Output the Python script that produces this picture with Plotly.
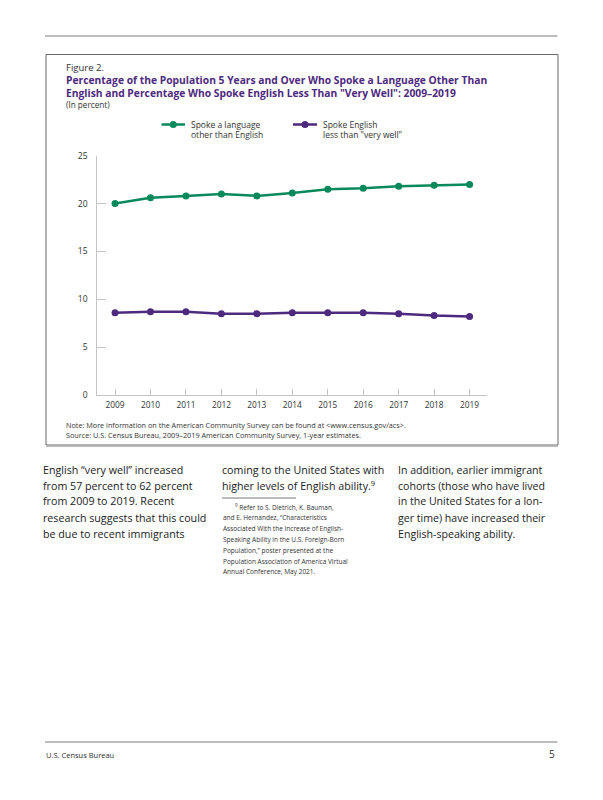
import plotly.graph_objects as go

W, H = 603, 800

years = [2009, 2010, 2011, 2012, 2013, 2014, 2015, 2016, 2017, 2018, 2019]
spoke_other = [20.0, 20.6, 20.8, 21.0, 20.8, 21.1, 21.5, 21.6, 21.8, 21.9, 22.0]
less_very_well = [8.6, 8.7, 8.7, 8.5, 8.5, 8.6, 8.6, 8.6, 8.5, 8.3, 8.2]
series_names = ["Spoke a language<br>other than English", "Spoke English<br>less than \"very well\""]
y_ticks = [0, 5, 10, 15, 20, 25]

GREEN = "#0a8a5c"
PURPLE = "#4e2a7e"
FONT = "Open Sans"

def px(x):
    return x / W

def py(y):
    return 1 - y / H

fig = go.Figure()
fig.add_trace(go.Scatter(x=years, y=spoke_other, mode="lines+markers",
                         line=dict(color=GREEN, width=2.5), marker=dict(size=7, color=GREEN),
                         name=series_names[0], showlegend=False))
fig.add_trace(go.Scatter(x=years, y=less_very_well, mode="lines+markers",
                         line=dict(color=PURPLE, width=2.5), marker=dict(size=7, color=PURPLE),
                         name=series_names[1], showlegend=False))

fig.update_layout(
    width=W, height=H, margin=dict(l=0, r=0, t=0, b=0, pad=0, autoexpand=False),
    autosize=False, showlegend=False,
    paper_bgcolor="white", plot_bgcolor="white",
    font=dict(family=FONT, color="#333"),
    xaxis=dict(domain=[px(97.3), px(487.3)], range=[2008.5, 2019.5],
               tickvals=years, ticktext=[str(y) for y in years],
               showline=True, linecolor="#c4c4c4", linewidth=1.2,
               ticks="inside", ticklen=6, tickcolor="#c4c4c4",
               showgrid=False, zeroline=False, ticklabelstandoff=2,
               tickfont=dict(size=8.3, color="#333", family=FONT)),
    yaxis=dict(domain=[py(395), py(155.7)], range=[0, 25],
               tickvals=y_ticks,
               showline=True, linecolor="#c4c4c4", linewidth=1.2,
               ticks="inside", ticklen=9, tickcolor="#c4c4c4",
               showgrid=False, zeroline=False, ticklabelstandoff=7,
               tickfont=dict(size=8.5, color="#333", family=FONT)),
)

shapes = []
# top rule
shapes.append(dict(type="line", xref="paper", yref="paper", x0=px(45), x1=px(557.5),
                   y0=py(36), y1=py(36), line=dict(color="#a8a8a8", width=1.5)))
# figure box
shapes.append(dict(type="rect", xref="paper", yref="paper", x0=px(46), x1=px(558),
                   y0=py(445), y1=py(54.5), line=dict(color="#6a6a6a", width=1)))
shapes.append(dict(type="line", xref="paper", yref="paper", x0=px(46), x1=px(558),
                   y0=py(446), y1=py(446), line=dict(color="#aaaaaa", width=1.5)))
# footnote rule
shapes.append(dict(type="line", xref="paper", yref="paper", x0=px(222), x1=px(296),
                   y0=py(498), y1=py(498), line=dict(color="#555", width=0.8)))
# footer rule
shapes.append(dict(type="line", xref="paper", yref="paper", x0=px(45), x1=px(557.5),
                   y0=py(742), y1=py(742), line=dict(color="#a8a8a8", width=1.5)))
# legend line samples
for (x0, x1, col) in [(161.5, 185, GREEN), (293, 317, PURPLE)]:
    shapes.append(dict(type="line", xref="paper", yref="paper", x0=px(x0), x1=px(x1),
                       y0=py(124.5), y1=py(124.5), line=dict(color=col, width=2.5)))
    cx = (x0 + x1) / 2
    shapes.append(dict(type="circle", xref="paper", yref="paper",
                       x0=px(cx - 3.5), x1=px(cx + 3.5), y0=py(128), y1=py(121),
                       fillcolor=col, line=dict(color=col, width=0)))
fig.update_layout(shapes=shapes)

ann = []
def text(x, y, s, size, color="#333", bold=False, anchor="left"):
    if bold:
        s = "<b>" + s + "</b>"
    ann.append(dict(x=px(x), y=py(y), xref="paper", yref="paper", text=s,
                    showarrow=False, xanchor=anchor, yanchor="middle",
                    font=dict(size=size, color=color, family=FONT)))

text(64, 67.5, "Figure 2.", 9.5)
text(64, 80.5, "Percentage of the Population 5 Years and Over Who Spoke a Language Other Than", 10.3, PURPLE, True)
text(64, 93, "English and Percentage Who Spoke English Less Than \"Very Well\": 2009–2019", 10.3, PURPLE, True)
text(64, 105, "(In percent)", 8.2)

text(189, 124, "Spoke a language", 8.5)
text(189, 134.5, "other than English", 8.5)
text(321, 124, "Spoke English", 8.5)
text(321, 134.5, "less than \"very well\"", 8.5)

text(64, 424.5, "Note: More information on the American Community Survey can be found at &lt;www.census.gov/acs&gt;.", 7.25)
text(64, 435, "Source: U.S. Census Bureau, 2009–2019 American Community Survey, 1-year estimates.", 7.25)

col1 = ["English “very well” increased", "from 57 percent to 62 percent", "from 2009 to 2019. Recent",
        "research suggests that this could", "be due to recent immigrants"]
col2 = ["coming to the United States with", "higher levels of English ability.<sup>9</sup>"]
col3 = ["In addition, earlier immigrant", "cohorts (those who have lived", "in the United States for a lon-",
        "ger time) have increased their", "English-speaking ability."]
foot = ["<sup>9</sup> Refer to S. Dietrich, K. Bauman,", "and E. Hernandez, “Characteristics",
        "Associated With the Increase of English-", "Speaking Ability in the U.S. Foreign-Born",
        "Population,” poster presented at the", "Population Association of America Virtual",
        "Annual Conference, May 2021."]
for i, s in enumerate(col1):
    text(41, 469.5 + i * 16, s, 10.7, "#222")
for i, s in enumerate(col2):
    text(220, 469.5 + i * 16, s, 10.7, "#222")
for i, s in enumerate(col3):
    text(396, 469.5 + i * 16, s, 10.6, "#222")
for i, s in enumerate(foot):
    x = 233 if i == 0 else 221
    text(x, 507 + i * 10.8, s, 6.5, "#333")

text(44, 755, "U.S. Census Bureau", 7.5)
text(557, 754, "5", 10, "#333", anchor="right")

fig.update_layout(annotations=ann)
fig.write_html("out.html", config={"displayModeBar": False},
               post_script="document.body.style.margin='0';document.body.style.overflow='hidden';")
